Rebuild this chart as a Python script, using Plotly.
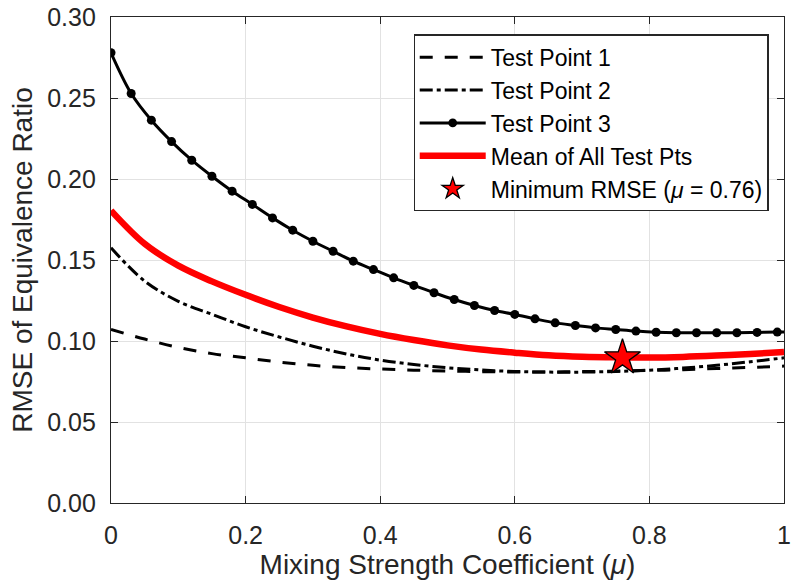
import plotly.graph_objects as go

# Mixing strength coefficient sample grids
mu_coarse = [0.00, 0.05, 0.10, 0.15, 0.20, 0.25, 0.30, 0.35, 0.40, 0.45, 0.50,
             0.55, 0.60, 0.65, 0.70, 0.75, 0.80, 0.85, 0.90, 0.95, 1.00]
mu_fine = [0.00, 0.03, 0.06, 0.09, 0.12, 0.15, 0.18, 0.21, 0.24, 0.27, 0.30,
           0.33, 0.36, 0.39, 0.42, 0.45, 0.48, 0.51, 0.54, 0.57, 0.60, 0.63,
           0.66, 0.69, 0.72, 0.75, 0.78, 0.81, 0.84, 0.87, 0.90, 0.93, 0.96,
           0.99, 1.00]

# RMSE of equivalence ratio per test point
rmse_tp1 = [0.1071, 0.1012, 0.0960, 0.0922, 0.0896, 0.0870, 0.0850, 0.0836,
            0.0827, 0.0820, 0.0815, 0.0811, 0.0809, 0.0809, 0.0811, 0.0814,
            0.0818, 0.0823, 0.0830, 0.0837, 0.0845]
rmse_tp2 = [0.1575, 0.1370, 0.1245, 0.1165, 0.1088, 0.1025, 0.0968, 0.0920,
            0.0882, 0.0855, 0.0835, 0.0821, 0.0812, 0.0808, 0.0808, 0.0812,
            0.0820, 0.0833, 0.0850, 0.0872, 0.0896]
rmse_tp3 = [0.2779, 0.2528, 0.2363, 0.2231, 0.2116, 0.2017, 0.1925, 0.1843,
            0.1760, 0.1684, 0.1616, 0.1554, 0.1493, 0.1441, 0.1390, 0.1343,
            0.1298, 0.1256, 0.1219, 0.1188, 0.1164, 0.1137, 0.1112, 0.1096,
            0.1081, 0.1071, 0.1061, 0.1054, 0.1051, 0.1051, 0.1051, 0.1051,
            0.1053, 0.1055, 0.1055]
rmse_mean = [0.1805, 0.1600, 0.1465, 0.1368, 0.1285, 0.1210, 0.1145, 0.1090,
             0.1044, 0.1006, 0.0973, 0.0947, 0.0928, 0.0912, 0.0903, 0.0899,
             0.0898, 0.0902, 0.0910, 0.0920, 0.0932]

# Optimum mixing strength
mu_best = [0.76]
rmse_best = [0.0897]

axis_color = "#262626"
font_family = "Liberation Sans, Arial, sans-serif"

fig = go.Figure()

fig.add_trace(go.Scatter(
    x=mu_coarse, y=rmse_tp1, mode="lines", name="Test Point 1",
    line=dict(color="black", width=3, dash="13px,12px", shape="spline"),
))
fig.add_trace(go.Scatter(
    x=mu_coarse, y=rmse_tp2, mode="lines", name="Test Point 2",
    line=dict(color="black", width=3, dash="13px,4px,4px,4px", shape="spline"),
))
# the closing point at mu = 1 only carries the line, not a marker
marker_sizes = [9] * (len(mu_fine) - 1) + [0]
fig.add_trace(go.Scatter(
    x=mu_fine, y=rmse_tp3, mode="lines+markers", name="Test Point 3",
    line=dict(color="black", width=3, shape="spline"),
    marker=dict(color="black", size=marker_sizes, symbol="circle",
                opacity=1, line=dict(color="black", width=0)),
))
fig.add_trace(go.Scatter(
    x=mu_coarse, y=rmse_mean, mode="lines", name="Mean of All Test Pts",
    line=dict(color="#ff0000", width=6.5, shape="spline"),
))
fig.add_trace(go.Scatter(
    x=mu_best, y=rmse_best, mode="markers",
    name="Minimum RMSE (<i>μ</i> = 0.76)",
    marker=dict(symbol="star", size=27, color="#ff0000", opacity=1,
                line=dict(color="black", width=1.3)),
))

axis_common = dict(
    showline=True, linecolor=axis_color, linewidth=1.2, mirror="ticks",
    ticks="inside", ticklen=7, tickcolor=axis_color,
    showgrid=True, gridcolor="#e2e2e2", gridwidth=1, zeroline=False,
    tickfont=dict(family=font_family, size=25, color=axis_color),
    ticklabeloverflow="allow", automargin=False,
)

fig.update_xaxes(
    range=[0, 1], tickvals=[0, 0.2, 0.4, 0.6, 0.8, 1],
    ticktext=["0", "0.2", "0.4", "0.6", "0.8", "1"],
    ticklabelstandoff=10,
    title=dict(text="Mixing Strength Coefficient (<i>μ</i>)",
               font=dict(family=font_family, size=28, color=axis_color),
               standoff=6),
    **axis_common,
)
fig.update_yaxes(
    range=[0, 0.30], tickvals=[0, 0.05, 0.10, 0.15, 0.20, 0.25, 0.30],
    tickformat=".2f",
    ticklabelstandoff=9,
    title=dict(text="RMSE of Equivalence Ratio",
               font=dict(family=font_family, size=28, color=axis_color),
               standoff=6),
    **axis_common,
)

fig.update_layout(
    width=791, height=586,
    margin=dict(l=111, r=7, t=17, b=83, autoexpand=False),
    paper_bgcolor="white", plot_bgcolor="white",
    font=dict(family=font_family, size=23, color="black"),
    showlegend=True,
    legend=dict(
        x=0.977, y=0.964, xanchor="right", yanchor="top",
        bgcolor="white", bordercolor=axis_color, borderwidth=1.2,
        font=dict(family=font_family, size=23, color="black"),
        tracegroupgap=0, itemwidth=66,
    ),
)

fig.write_html("out.html")
